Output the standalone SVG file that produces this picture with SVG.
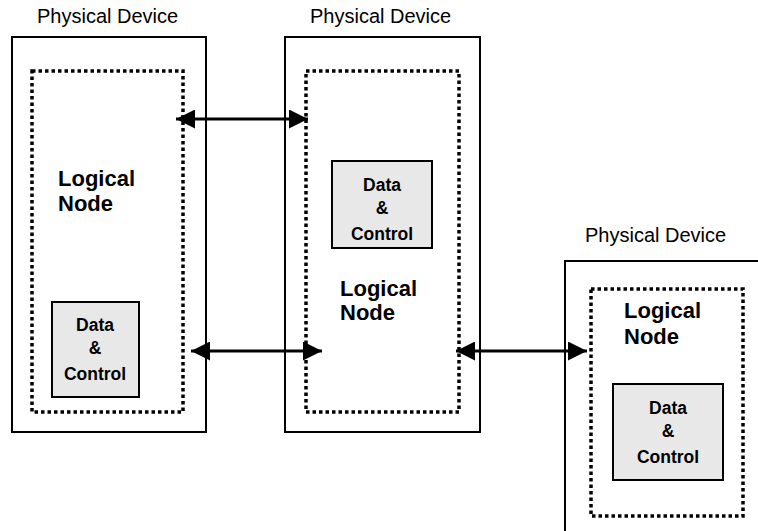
<svg xmlns="http://www.w3.org/2000/svg" width="758" height="531" viewBox="0 0 758 531">
<defs>
<style>
.dev{fill:#fff;stroke:#000;stroke-width:2}
.ln{fill:none;stroke:#000;stroke-width:3.5;stroke-dasharray:3.5 3}
.dc{fill:#e8e8e8;stroke:#000;stroke-width:2}
.t1{font-family:"Liberation Sans",Arial,sans-serif;font-size:20px;fill:#000}
.t2{font-family:"Liberation Sans",Arial,sans-serif;font-size:22px;font-weight:bold;fill:#000}
.t3{font-family:"Liberation Sans",Arial,sans-serif;font-size:17.5px;font-weight:bold;fill:#000;text-anchor:middle}
.con{stroke:#000;stroke-width:3;fill:none;marker-start:url(#a);marker-end:url(#a)}
</style>
<marker id="a" viewBox="0 0 10 10" refX="10" refY="5" markerUnits="userSpaceOnUse" markerWidth="19" markerHeight="19" orient="auto-start-reverse">
<path d="M0,0 L10,5 L0,10 Z" fill="#000"/>
</marker>
</defs>
<g id="device1">
<text class="t1" x="37" y="23">Physical Device</text>
<rect class="dev" x="12" y="37" width="194" height="395"/>
<rect class="ln" x="32" y="71" width="151" height="341"/>
<text class="t2" x="58" y="186">Logical</text>
<text class="t2" x="58" y="211">Node</text>
<g id="dc1">
<rect class="dc" x="52" y="302" width="87" height="95"/>
<text class="t3" x="95" y="331">Data</text>
<text class="t3" x="95" y="354">&amp;</text>
<text class="t3" x="95" y="380">Control</text>
</g>
</g>
<g id="device2">
<text class="t1" x="310" y="23">Physical Device</text>
<rect class="dev" x="285" y="37" width="195" height="395"/>
<rect class="ln" x="306" y="71" width="153" height="341"/>
<text class="t2" x="340" y="296">Logical</text>
<text class="t2" x="340" y="320">Node</text>
<g id="dc2">
<rect class="dc" x="332" y="161" width="100" height="87"/>
<text class="t3" x="382" y="191">Data</text>
<text class="t3" x="382" y="214">&amp;</text>
<text class="t3" x="382" y="240">Control</text>
</g>
</g>
<g id="device3">
<text class="t1" x="585" y="242">Physical Device</text>
<rect class="dev" x="565" y="261" width="200" height="280"/>
<rect class="ln" x="591" y="289" width="152" height="227"/>
<text class="t2" x="624" y="318">Logical</text>
<text class="t2" x="624" y="344">Node</text>
<g id="dc3">
<rect class="dc" x="613" y="384" width="110" height="96"/>
<text class="t3" x="668" y="414">Data</text>
<text class="t3" x="668" y="437">&amp;</text>
<text class="t3" x="668" y="463">Control</text>
</g>
</g>
<g id="connectors">
<line class="con" x1="176" y1="119" x2="308" y2="119"/>
<line class="con" x1="191" y1="351" x2="322" y2="351"/>
<line class="con" x1="456" y1="351" x2="587" y2="351"/>
</g>
</svg>
